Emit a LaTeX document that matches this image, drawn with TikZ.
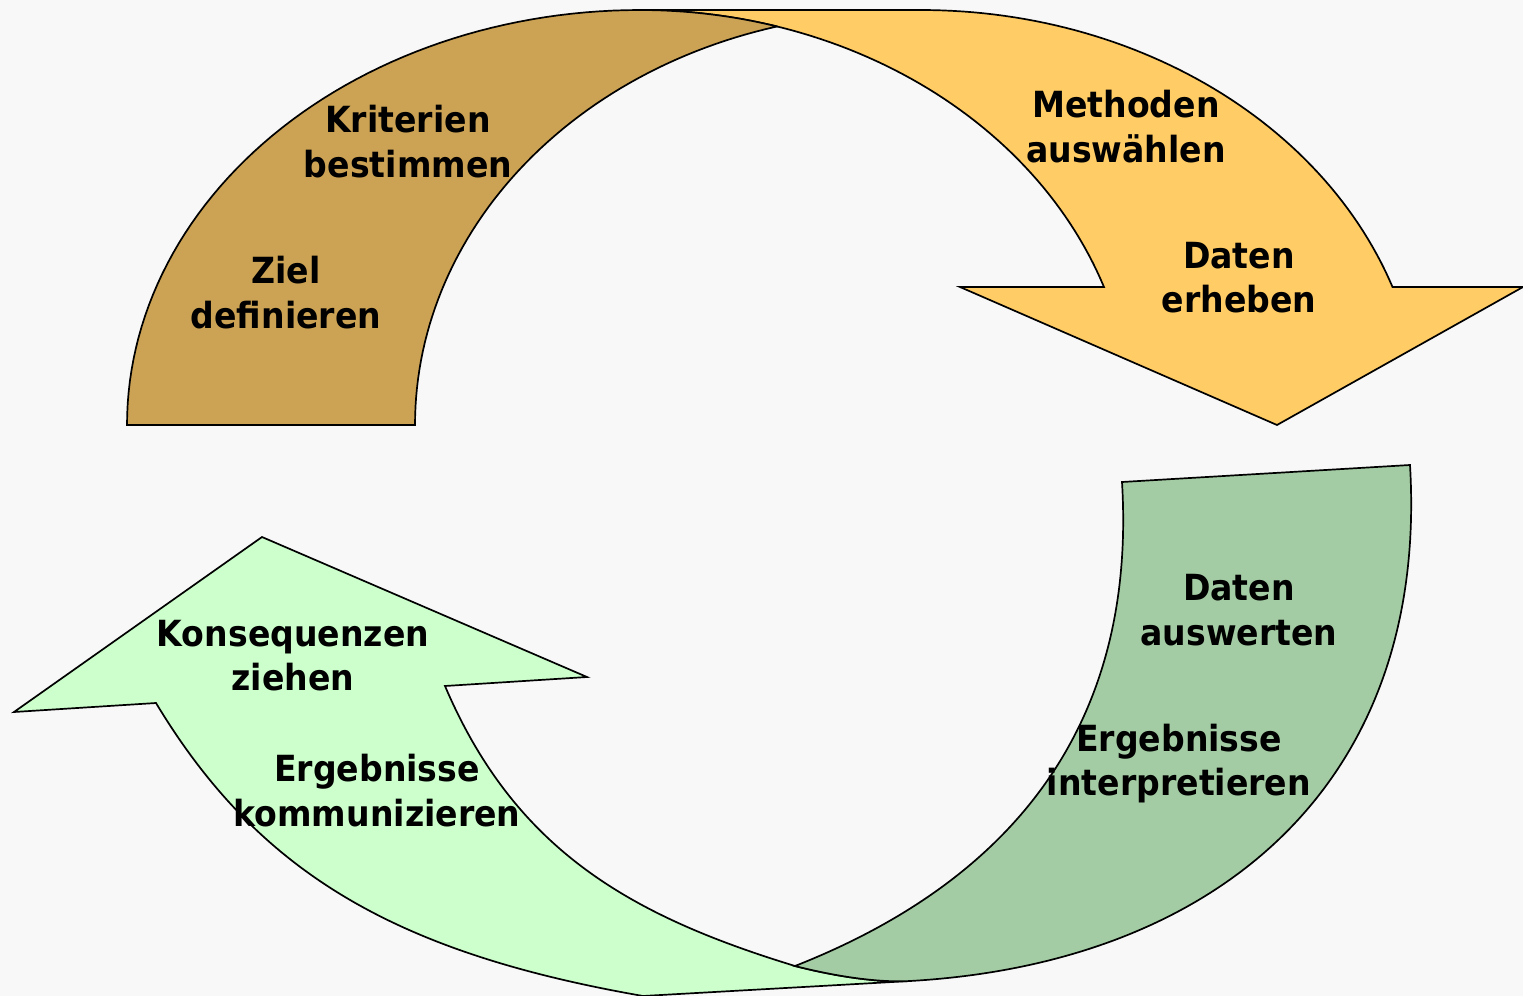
\documentclass[tikz,border=0pt]{standalone}
\usepackage{fontspec}
\newfontfamily\lblfont{DejaVu Sans}[FakeStretch=0.92]
\definecolor{bgc}{RGB}{248,248,248}
\definecolor{brownc}{RGB}{204,163,84}
\definecolor{yellowc}{RGB}{255,204,102}
\definecolor{dgreenc}{RGB}{164,204,164}
\definecolor{lgreenc}{RGB}{204,255,204}
\tikzset{
  band/.style={draw=black, line width=0.85pt, line join=miter},
  lbl/.style={anchor=base, inner sep=0pt, text=black,
    font=\lblfont\bfseries\fontsize{18}{22}\selectfont}
}
\begin{document}
\begin{tikzpicture}[x=0.5pt,y=-0.5pt]
\useasboundingbox (0,0) rectangle (1523,996);
\fill[bgc] (0,0) rectangle (1523,996);
% yellow arrow (top right)
\draw[band, fill=yellowc] (640,10) -- (921,10)
  -- plot[domain=90:19.42,samples=60] ({921+500*cos(\x)},{425-415*sin(\x)})
  -- (1523,287) -- (1277,425) -- (960,287)
  -- plot[domain=19.42:90,samples=60] ({640+492*cos(\x)},{425-415*sin(\x)})
  -- cycle;
% brown band (top left)
\draw[band, fill=brownc] (127,425)
  -- plot[domain=180:90,samples=60] ({640+513*cos(\x)},{425-415*sin(\x)})
  -- plot[domain=90:73.83,samples=20] ({640+492*cos(\x)},{425-415*sin(\x)})
  -- plot[domain=104.69:180,samples=60] ({900+485*cos(\x)},{425-412*sin(\x)})
  -- cycle;
% light green arrow (bottom left)
\draw[band, fill=lgreenc] (262,537) -- (587,677) -- (445,686)
  .. controls (515.6,851.6) and (632.5,916.2) .. (795,966)
  .. controls (830,975) and (875,983) .. (910,981)
  -- (643,996)
  .. controls (397,953) and (259,874) .. (156,703)
  -- (14,712) -- cycle;
% dark green band (bottom right)
\draw[band, fill=dgreenc] (1122,482) -- (1410,465)
  .. controls (1429,784) and (1217,963.5) .. (910,981)
  .. controls (875,983) and (830,975) .. (795,966)
  .. controls (970,897) and (1139,762) .. (1122,482)
  -- cycle;
% labels
\node[lbl] (krit1) at (408,132) {Kriterien};
\node[lbl] (krit2) at (408,177) {bestimmen};
\node[lbl] (ziel1) at (286,283) {Ziel};
\node[lbl] (ziel2) at (286,328) {definieren};
\node[lbl] (meth1) at (1126,117) {Methoden};
\node[lbl] (meth2) at (1126,162) {auswählen};
\node[lbl] (erh1) at (1239,268) {Daten};
\node[lbl] (erh2) at (1239,312) {erheben};
\node[lbl] (ausw1) at (1239,600) {Daten};
\node[lbl] (ausw2) at (1239,645) {auswerten};
\node[lbl] (int1) at (1179,751) {Ergebnisse};
\node[lbl] (int2) at (1179,795) {interpretieren};
\node[lbl] (kons1) at (293,646) {Konsequenzen};
\node[lbl] (kons2) at (293,690) {ziehen};
\node[lbl] (komm1) at (377,781) {Ergebnisse};
\node[lbl] (komm2) at (377,826) {kommunizieren};
\end{tikzpicture}
\end{document}
